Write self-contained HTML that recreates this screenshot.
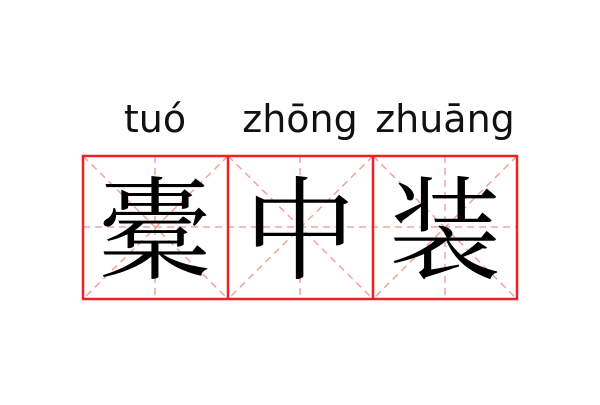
<!DOCTYPE html>
<html><head><meta charset="utf-8"><style>
body{margin:0;width:600px;height:400px;background:#fff;overflow:hidden}
</style></head><body>
<svg width="600" height="400" xmlns="http://www.w3.org/2000/svg">
<g font-family="DejaVu Sans, Liberation Sans, sans-serif" font-size="38" fill="#111" text-anchor="middle">
<text x="155" y="132">tuó</text>
<text x="300" y="132">zhōng</text>
<text x="445" y="132">zhuāng</text>
</g>
<g stroke="#f4a0a0" stroke-width="1.5" stroke-dasharray="7,5" fill="none">
<line x1="83" y1="227" x2="517" y2="227"/>
<line x1="155" y1="156" x2="155" y2="299"/>
<line x1="300" y1="156" x2="300" y2="299"/>
<line x1="445" y1="156" x2="445" y2="299"/>
<line x1="83" y1="156" x2="228" y2="299"/><line x1="228" y1="156" x2="83" y2="299"/>
<line x1="228" y1="156" x2="373" y2="299"/><line x1="373" y1="156" x2="228" y2="299"/>
<line x1="373" y1="156" x2="517" y2="299"/><line x1="517" y1="156" x2="373" y2="299"/>
</g>
<g stroke="#ee2222" stroke-width="2.5" fill="none">
<rect x="83" y="156" width="434" height="143"/>
<line x1="228" y1="156" x2="228" y2="299"/>
<line x1="373" y1="156" x2="373" y2="299"/>
</g>
<g font-family="Noto Serif CJK SC, serif" font-size="112" fill="#000" text-anchor="middle">
<text x="155" y="270">橐</text>
<text x="300" y="270">中</text>
<text x="445" y="270">装</text>
</g>
</svg>
</body></html>
